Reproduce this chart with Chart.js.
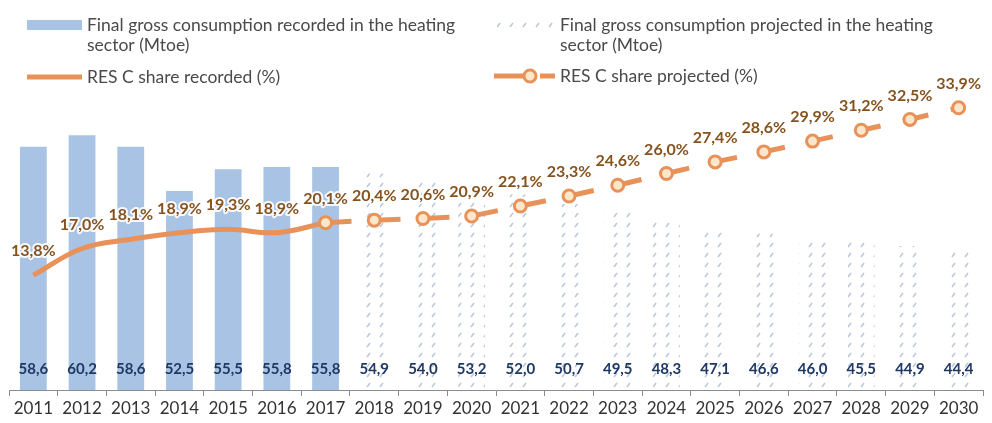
<!DOCTYPE html>
<html>
<head>
<meta charset="utf-8">
<script src="https://cdn.jsdelivr.net/npm/chart.js@4/dist/chart.umd.min.js"></script>
<style>
  body { margin: 0; background: #fff; }
  #wrap { width: 992px; height: 423px; position: relative; }
</style>
</head>
<body>
<div id="wrap"><canvas id="chartHeat"></canvas></div>
<script>
const years = ['2011', '2012', '2013', '2014', '2015', '2016', '2017', '2018', '2019', '2020',
               '2021', '2022', '2023', '2024', '2025', '2026', '2027', '2028', '2029', '2030'];
// Mtoe
const consRecorded = [58.6, 60.2, 58.6, 52.5, 55.5, 55.8, 55.8, null, null, null,
                      null, null, null, null, null, null, null, null, null, null];
const consProjected = [null, null, null, null, null, null, null, 54.9, 54.0, 53.2,
                       52.0, 50.7, 49.5, 48.3, 47.1, 46.6, 46.0, 45.5, 44.9, 44.4];
// RES C share, %
const shareRecorded = [13.8, 17.0, 18.1, 18.9, 19.3, 18.9, 20.1, null, null, null,
                       null, null, null, null, null, null, null, null, null, null];
const shareProjected = [null, null, null, null, null, null, 20.1, 20.4, 20.6, 20.9,
                        22.1, 23.3, 24.6, 26.0, 27.4, 28.6, 29.9, 31.2, 32.5, 33.9];

const FONT = 'Lato, "Open Sans", sans-serif';
const BAR_BLUE = '#a8c3e3';
const ORANGE = '#e8925a';
const MARK_FILL = '#fde7cb';

const fmt = v => v.toFixed(1).replace('.', ',');

// hatch used for the projected bars
function makeHatch() {
    const c = document.createElement('canvas');
    c.width = 13; c.height = 10;
    const g = c.getContext('2d');
    g.fillStyle = '#ffffff';
    g.fillRect(0, 0, 13, 10);
    g.strokeStyle = '#bcc8d9';
    g.lineWidth = 1.6;
    g.beginPath();
    g.moveTo(3, 7); g.lineTo(6, 3);
    g.stroke();
    return g.createPattern(c, 'repeat');
}
const hatch = makeHatch();

// text labels: values at the foot of the bars, percentages over the line
const valueLabels = {
    id: 'valueLabels',
    afterDatasetsDraw(chart) {
        const ctx = chart.ctx;
        const area = chart.chartArea;
        ctx.save();
        ctx.textAlign = 'center';
        ctx.textBaseline = 'middle';

        ctx.font = 'bold 15px ' + FONT;
        ctx.fillStyle = '#1f3864';
        [0, 1].forEach(di => {
            const meta = chart.getDatasetMeta(di);
            chart.data.datasets[di].data.forEach((v, i) => {
                if (v == null) return;
                ctx.fillText(fmt(v), meta.data[i].x, area.bottom - 21);
            });
        });

        ctx.font = 'bold 16px ' + FONT;
        ctx.lineJoin = 'round';
        [2, 3].forEach(di => {
            const meta = chart.getDatasetMeta(di);
            chart.data.datasets[di].data.forEach((v, i) => {
                if (v == null) return;
                if (di === 3 && shareRecorded[i] != null) return;
                const p = meta.data[i];
                ctx.strokeStyle = 'rgba(255,255,255,0.9)';
                ctx.lineWidth = 4;
                ctx.strokeText(fmt(v) + '%', p.x, p.y - 24);
                ctx.fillStyle = '#86531f';
                ctx.fillText(fmt(v) + '%', p.x, p.y - 24);
            });
        });
        ctx.restore();
    }
};

function wrap(ctx, text, maxW) {
    const words = text.split(' ');
    const lines = [];
    let cur = '';
    words.forEach(w => {
        const t = cur ? cur + ' ' + w : w;
        if (ctx.measureText(t).width > maxW && cur) { lines.push(cur); cur = w; }
        else cur = t;
    });
    lines.push(cur);
    return lines;
}

// two-column legend above the plot
const topLegend = {
    id: 'topLegend',
    afterDraw(chart) {
        const ctx = chart.ctx;
        const ds = chart.data.datasets;
        ctx.save();
        ctx.font = '17.5px ' + FONT;
        ctx.textBaseline = 'middle';
        ctx.textAlign = 'left';

        const text = (label, x, y) => {
            wrap(ctx, label, 385).forEach((ln, k) => {
                ctx.fillStyle = '#4a4a4a';
                ctx.fillText(ln, x, y + k * 20);
            });
        };

        // recorded consumption
        ctx.fillStyle = BAR_BLUE;
        ctx.fillRect(27, 20, 55, 10);
        text(ds[0].label, 87, 25);

        // projected consumption
        ctx.fillStyle = hatch;
        ctx.fillRect(497, 19, 58, 12);
        text(ds[1].label, 560, 25);

        // recorded share
        ctx.strokeStyle = ORANGE;
        ctx.lineWidth = 5;
        ctx.beginPath(); ctx.moveTo(27, 77); ctx.lineTo(82, 77); ctx.stroke();
        text(ds[2].label, 87, 77);

        // projected share
        ctx.beginPath(); ctx.moveTo(494, 76); ctx.lineTo(524, 76); ctx.stroke();
        ctx.beginPath(); ctx.moveTo(540, 76); ctx.lineTo(555, 76); ctx.stroke();
        ctx.lineWidth = 3;
        ctx.fillStyle = MARK_FILL;
        ctx.beginPath(); ctx.arc(530, 76, 6, 0, Math.PI * 2); ctx.fill(); ctx.stroke();
        text(ds[3].label, 560, 76);

        ctx.restore();
    }
};

new Chart(document.getElementById('chartHeat'), {
    data: {
        labels: years,
        datasets: [
            {
                type: 'bar', label: 'Final gross consumption recorded in the heating sector (Mtoe)',
                data: consRecorded, backgroundColor: BAR_BLUE, yAxisID: 'y',
                grouped: false, barPercentage: 0.55, categoryPercentage: 1, order: 2
            },
            {
                type: 'bar', label: 'Final gross consumption projected in the heating sector (Mtoe)',
                data: consProjected, backgroundColor: hatch, yAxisID: 'y',
                grouped: false, barPercentage: 0.55, categoryPercentage: 1, order: 2
            },
            {
                type: 'line', label: 'RES C share recorded (%)',
                data: shareRecorded, borderColor: ORANGE, borderWidth: 5,
                tension: 0.4, pointRadius: 0, yAxisID: 'y2', order: 1
            },
            {
                type: 'line', label: 'RES C share projected (%)',
                data: shareProjected, borderColor: ORANGE, borderWidth: 5,
                borderDash: [26, 23], pointRadius: 6, pointBorderWidth: 3,
                pointBackgroundColor: MARK_FILL, pointBorderColor: ORANGE,
                yAxisID: 'y2', order: 0
            }
        ]
    },
    options: {
        responsive: true,
        maintainAspectRatio: false,
        animation: false,
        layout: { padding: { top: 57, left: 8, right: 0, bottom: 0 } },
        plugins: { legend: { display: false }, tooltip: { enabled: false } },
        scales: {
            x: {
                offset: true,
                grid: { drawOnChartArea: false, tickLength: 6, color: '#8c8c8c', offset: true },
                border: { color: '#8c8c8c' },
                ticks: { color: '#333', font: { family: FONT, size: 17 }, padding: 2, maxRotation: 0 },
                afterFit: s => { s.height = 33; }
            },
            y: { display: false, min: 25, max: 71 },
            y2: { display: false, min: 0, max: 40 }
        }
    },
    plugins: [valueLabels, topLegend]
});
</script>
</body>
</html>
